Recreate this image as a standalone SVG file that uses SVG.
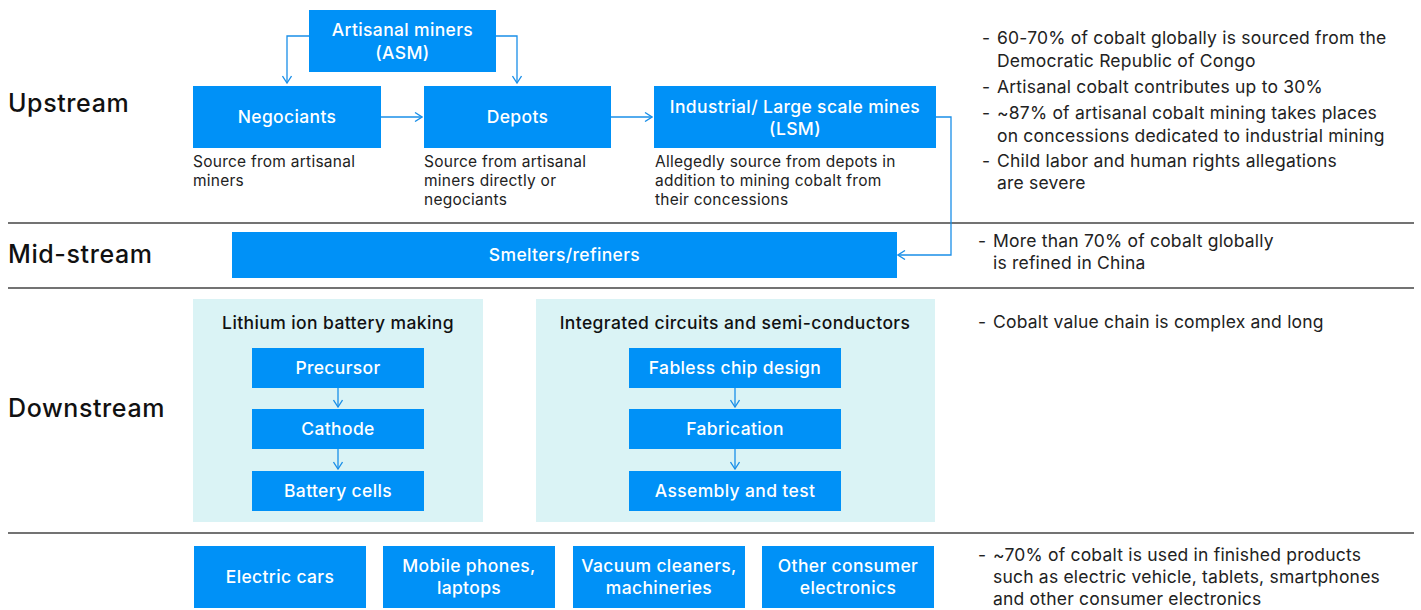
<svg xmlns="http://www.w3.org/2000/svg" width="1421" height="610" viewBox="0 0 1421 610">
  <style>
    .box { fill: #0091f7; }
    .panel { fill: #daf3f5; }
    .lbl { font-family: Inter, "Liberation Sans", sans-serif; font-size: 17.5px; letter-spacing: 0.35px; font-weight: 500; fill: #ffffff; text-anchor: middle; }
    .hdr { font-family: Inter, "Liberation Sans", sans-serif; font-size: 17.5px; letter-spacing: 0.4px; font-weight: 500; fill: #111111; text-anchor: middle; }
    .stage { font-family: Inter, "Liberation Sans", sans-serif; font-size: 25px; letter-spacing: 0.6px; font-weight: 500; fill: #111111; }
    .cap { font-family: Inter, "Liberation Sans", sans-serif; font-size: 15.5px; letter-spacing: 0.25px; fill: #222222; }
    .note { font-family: Inter, "Liberation Sans", sans-serif; font-size: 17.5px; letter-spacing: 0.2px; fill: #222222; }
    .sep { stroke: #444444; stroke-width: 1.5; }
    .conn { fill: none; stroke: #1a8fe8; stroke-width: 1.3; marker-end: url(#chev); }
  </style>
  <defs>
    <marker id="chev" viewBox="0 0 10 10" refX="9" refY="5" markerWidth="10" markerHeight="10" markerUnits="userSpaceOnUse" orient="auto">
      <path d="M2,0.5 L9,5 L2,9.5" fill="none" stroke="#1a8fe8" stroke-width="1.3"/>
    </marker>
  </defs>
  <rect width="1421" height="610" fill="#ffffff"/>

  <!-- section dividers -->
  <g id="dividers">
    <line class="sep" x1="8" y1="223" x2="1414" y2="223"/>
    <line class="sep" x1="8" y1="288" x2="1414" y2="288"/>
    <line class="sep" x1="8" y1="533" x2="1414" y2="533"/>
  </g>

  <!-- stage labels -->
  <g id="stages">
    <text class="stage" x="8" y="112">Upstream</text>
    <text class="stage" x="8" y="263">Mid-stream</text>
    <text class="stage" x="8" y="417">Downstream</text>
  </g>

  <!-- upstream nodes -->
  <g id="asm">
    <rect class="box" x="309" y="10" width="187" height="62"/>
    <text class="lbl" x="402.5" y="36">Artisanal miners</text>
    <text class="lbl" x="402.5" y="59">(ASM)</text>
  </g>
  <g id="negociants">
    <rect class="box" x="193" y="86" width="188" height="62"/>
    <text class="lbl" x="287" y="123">Negociants</text>
    <text class="cap" x="193" y="167">Source from artisanal</text>
    <text class="cap" x="193" y="186">miners</text>
  </g>
  <g id="depots">
    <rect class="box" x="424" y="86" width="187" height="62"/>
    <text class="lbl" x="517.5" y="123">Depots</text>
    <text class="cap" x="424" y="167">Source from artisanal</text>
    <text class="cap" x="424" y="186">miners directly or</text>
    <text class="cap" x="424" y="205">negociants</text>
  </g>
  <g id="lsm">
    <rect class="box" x="654" y="86" width="282" height="62"/>
    <text class="lbl" x="795" y="113">Industrial/ Large scale mines</text>
    <text class="lbl" x="795" y="135">(LSM)</text>
    <text class="cap" x="655" y="167">Allegedly source from depots in</text>
    <text class="cap" x="655" y="186">addition to mining cobalt from</text>
    <text class="cap" x="655" y="205">their concessions</text>
  </g>

  <!-- mid-stream node -->
  <g id="smelters">
    <rect class="box" x="232" y="232" width="665" height="46"/>
    <text class="lbl" x="564.5" y="261">Smelters/refiners</text>
  </g>

  <!-- downstream: battery chain -->
  <g id="battery">
    <rect class="panel" x="193" y="299" width="290" height="223"/>
    <text class="hdr" x="338" y="329">Lithium ion battery making</text>
    <g id="precursor">
      <rect class="box" x="252" y="348" width="172" height="40"/>
      <text class="lbl" x="338" y="374">Precursor</text>
    </g>
    <g id="cathode">
      <rect class="box" x="252" y="409" width="172" height="40"/>
      <text class="lbl" x="338" y="435">Cathode</text>
    </g>
    <g id="cells">
      <rect class="box" x="252" y="471" width="172" height="40"/>
      <text class="lbl" x="338" y="497">Battery cells</text>
    </g>
  </g>

  <!-- downstream: semiconductor chain -->
  <g id="semis">
    <rect class="panel" x="536" y="299" width="399" height="223"/>
    <text class="hdr" x="735" y="329">Integrated circuits and semi-conductors</text>
    <g id="fabless">
      <rect class="box" x="629" y="348" width="212" height="40"/>
      <text class="lbl" x="735" y="374">Fabless chip design</text>
    </g>
    <g id="fabrication">
      <rect class="box" x="629" y="409" width="212" height="40"/>
      <text class="lbl" x="735" y="435">Fabrication</text>
    </g>
    <g id="assembly">
      <rect class="box" x="629" y="471" width="212" height="40"/>
      <text class="lbl" x="735" y="497">Assembly and test</text>
    </g>
  </g>

  <!-- end products -->
  <g id="cars">
    <rect class="box" x="194" y="546" width="172" height="62"/>
    <text class="lbl" x="280" y="583">Electric cars</text>
  </g>
  <g id="phones">
    <rect class="box" x="383" y="546" width="172" height="62"/>
    <text class="lbl" x="469" y="572">Mobile phones,</text>
    <text class="lbl" x="469" y="594">laptops</text>
  </g>
  <g id="vacuum">
    <rect class="box" x="573" y="546" width="172" height="62"/>
    <text class="lbl" x="659" y="572">Vacuum cleaners,</text>
    <text class="lbl" x="659" y="594">machineries</text>
  </g>
  <g id="consumer">
    <rect class="box" x="762" y="546" width="172" height="62"/>
    <text class="lbl" x="848" y="572">Other consumer</text>
    <text class="lbl" x="848" y="594">electronics</text>
  </g>

  <!-- connectors -->
  <g id="connectors">
    <path class="conn" d="M309,36 H287 V83"/>
    <path class="conn" d="M496,36 H517 V83"/>
    <path class="conn" d="M381,117 H422"/>
    <path class="conn" d="M611,117 H652"/>
    <path class="conn" d="M936,117 H951 V255 H898"/>
    <path class="conn" d="M338,388 V407"/>
    <path class="conn" d="M338,449 V469"/>
    <path class="conn" d="M735,388 V407"/>
    <path class="conn" d="M735,449 V469"/>
  </g>

  <!-- commentary -->
  <g id="notes">
    <text class="note" x="982" y="44">-</text>
    <text class="note" x="997" y="44">60-70% of cobalt globally is sourced from the</text>
    <text class="note" x="997" y="67">Democratic Republic of Congo</text>
    <text class="note" x="982" y="93">-</text>
    <text class="note" x="997" y="93">Artisanal cobalt contributes up to 30%</text>
    <text class="note" x="982" y="119">-</text>
    <text class="note" x="997" y="119">~87% of artisanal cobalt mining takes places</text>
    <text class="note" x="997" y="142">on concessions dedicated to industrial mining</text>
    <text class="note" x="982" y="167">-</text>
    <text class="note" x="997" y="167">Child labor and human rights allegations</text>
    <text class="note" x="997" y="189">are severe</text>

    <text class="note" x="978" y="247">-</text>
    <text class="note" x="993" y="247">More than 70% of cobalt globally</text>
    <text class="note" x="993" y="269">is refined in China</text>

    <text class="note" x="978" y="328">-</text>
    <text class="note" x="993" y="328">Cobalt value chain is complex and long</text>

    <text class="note" x="978" y="561">-</text>
    <text class="note" x="993" y="561">~70% of cobalt is used in finished products</text>
    <text class="note" x="993" y="583">such as electric vehicle, tablets, smartphones</text>
    <text class="note" x="993" y="605">and other consumer electronics</text>
  </g>
</svg>
